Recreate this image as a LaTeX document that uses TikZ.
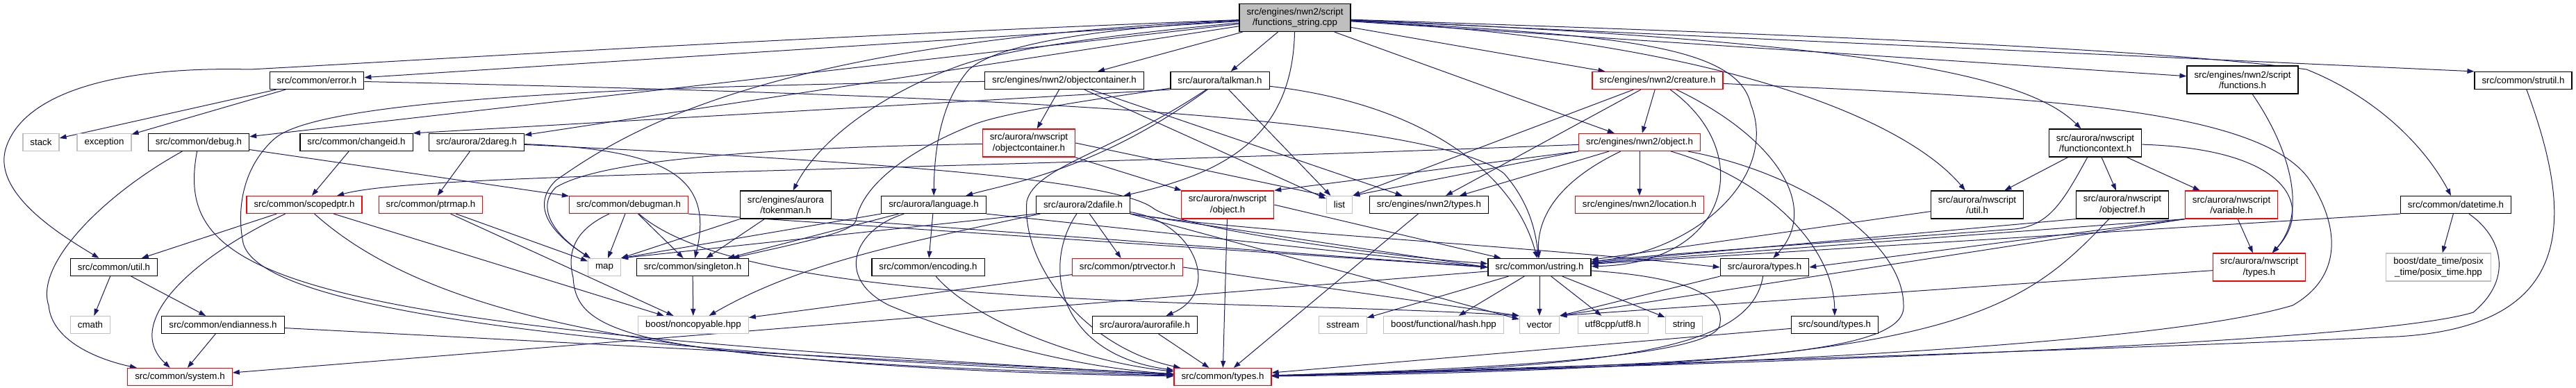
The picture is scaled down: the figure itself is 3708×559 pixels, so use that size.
\documentclass[tikz,border=0pt]{standalone}
\usepackage{fontspec}
\setmainfont{Liberation Sans}
\usetikzlibrary{arrows.meta}
\pgfdeclarelayer{background}
\pgfsetlayers{background,main}
\definecolor{edgeblue}{HTML}{191970}
\definecolor{lightframe}{HTML}{BFBFBF}
\tikzset{
  file/.style={draw=black, fill=white, line width=1.2pt, inner xsep=10.5pt,
    inner ysep=2pt, minimum height=25pt, align=center,
    font=\fontsize{13.3}{15.5}\selectfont},
  twoline/.style={minimum height=40pt},
  cut/.style={draw=red},
  sysfile/.style={draw=lightframe},
  rootfile/.style={fill=lightframe},
  dep/.style={draw=edgeblue, line width=1pt, -{Triangle[length=10pt,width=7pt]}}
}

\begin{document}
\begin{tikzpicture}[x=1pt, y=-1pt]
  \useasboundingbox (0,0) rectangle (3708,559);

  \node[file, rootfile, twoline] (root) at (1864,25.5) {src/engines/nwn2/script\\/functions\_string.cpp};
  \node[file] (error) at (456,116) {src/common/error.h};
  \node[file] (nwnobjcont) at (1532,116) {src/engines/nwn2/objectcontainer.h};
  \node[file] (talkman) at (1756,116) {src/aurora/talkman.h};
  \node[file, cut] (creature) at (2386,116) {src/engines/nwn2/creature.h};
  \node[file, twoline] (functions) at (3228,115) {src/engines/nwn2/script\\/functions.h};
  \node[file] (strutil) at (3632,116) {src/common/strutil.h};

  \node[file, sysfile] (stack) at (59,205) {stack};
  \node[file, sysfile] (exception) at (150,205) {exception};
  \node[file] (debug) at (286,205) {src/common/debug.h};
  \node[file] (changeid) at (513,205) {src/common/changeid.h};
  \node[file] (dareg) at (686,205) {src/aurora/2dareg.h};
  \node[file, cut, twoline] (nwsobjcont) at (1481,206) {src/aurora/nwscript\\/objectcontainer.h};
  \node[file, cut] (nwnobject) at (2360,205) {src/engines/nwn2/object.h};
  \node[file, twoline] (funccontext) at (3016,206) {src/aurora/nwscript\\/functioncontext.h};

  \node[file, cut] (scopedptr) at (438,295) {src/common/scopedptr.h};
  \node[file, cut] (ptrmap) at (620,295) {src/common/ptrmap.h};
  \node[file, cut] (debugman) at (905,295) {src/common/debugman.h};
  \node[file, twoline] (tokenman) at (1131,295) {src/engines/aurora\\/tokenman.h};
  \node[file] (language) at (1344,295) {src/aurora/language.h};
  \node[file] (dafile) at (1559,295) {src/aurora/2dafile.h};
  \node[file, cut, twoline] (nwsobject) at (1767,295) {src/aurora/nwscript\\/object.h};
  \node[file, sysfile] (list) at (1928,295) {list};
  \node[file] (nwntypes) at (2057,295) {src/engines/nwn2/types.h};
  \node[file, cut] (location) at (2360,295) {src/engines/nwn2/location.h};
  \node[file, twoline] (nwsutil) at (2846,295) {src/aurora/nwscript\\/util.h};
  \node[file, twoline] (objectref) at (3055,295) {src/aurora/nwscript\\/objectref.h};
  \node[file, cut, twoline] (variable) at (3212,295) {src/aurora/nwscript\\/variable.h};
  \node[file] (datetime) at (3535,295) {src/common/datetime.h};

  \node[file] (util) at (164,385) {src/common/util.h};
  \node[file, sysfile] (map) at (870,385) {map};
  \node[file] (singleton) at (997,385) {src/common/singleton.h};
  \node[file] (encoding) at (1336,385) {src/common/encoding.h};
  \node[file, cut] (ptrvector) at (1623,385) {src/common/ptrvector.h};
  \node[file] (ustring) at (2216,385) {src/common/ustring.h};
  \node[file] (auroratypes) at (2540,385) {src/aurora/types.h};
  \node[file, cut, twoline] (nwstypes) at (3252,385) {src/aurora/nwscript\\/types.h};
  \node[file, sysfile, twoline] (posix) at (3510,385) {boost/date\_time/posix\\\_time/posix\_time.hpp};

  \node[file, sysfile] (cmath) at (130,468) {cmath};
  \node[file] (endianness) at (321,468) {src/common/endianness.h};
  \node[file, sysfile] (noncopyable) at (998,468) {boost/noncopyable.hpp};
  \node[file] (aurorafile) at (1648,468) {src/aurora/aurorafile.h};
  \node[file, sysfile] (sstream) at (1933,468) {sstream};
  \node[file, sysfile] (hash) at (2078,468) {boost/functional/hash.hpp};
  \node[file, sysfile] (vector) at (2216,468) {vector};
  \node[file, sysfile] (utf8) at (2322,468) {utf8cpp/utf8.h};
  \node[file, sysfile] (string) at (2424,468) {string};
  \node[file] (soundtypes) at (2641,468) {src/sound/types.h};

  \node[file, cut] (system) at (259,543) {src/common/system.h};
  \node[file, cut] (types) at (1760,543) {src/common/types.h};

  \begin{pgfonlayer}{background}
  \draw[dep] (root) -- (error);
  \draw[dep] (root) .. controls (1100,55) and (550,90) .. (360,100) .. controls (150,95) and (30,140) .. (8,215) .. controls (-10,280) and (90,340) .. (util);
  \draw[dep] (root) -- (debug);
  \draw[dep] (root) -- (dareg);
  \draw[dep] (root) .. controls (1100,60) and (900,190) .. (800,260) .. controls (760,300) and (800,340) .. (map);
  \draw[dep] (root) .. controls (1600,50) and (1450,70) .. (1380,95) .. controls (1270,135) and (1180,200) .. (tokenman);
  \draw[dep] (root) .. controls (1600,40) and (1440,60) .. (1395,100) .. controls (1360,140) and (1345,200) .. (language);
  \draw[dep] (root) -- (nwnobjcont);
  \draw[dep] (root) -- (talkman);
  \draw[dep] (root) .. controls (1860,200) and (1760,250) .. (dafile);
  \draw[dep] (root) -- (creature);
  \draw[dep] (root) -- (nwnobject);
  \draw[dep] (root) .. controls (2300,50) and (2500,60) .. (2520,150) .. controls (2560,250) and (2450,360) .. (ustring);
  \draw[dep] (root) .. controls (2500,60) and (2750,180) .. (nwsutil);
  \draw[dep] (root) .. controls (2700,60) and (2920,110) .. (funccontext);
  \draw[dep] (root) -- (functions);
  \draw[dep] (root) -- (strutil.north west);
  \draw[dep] (root) .. controls (2600,50) and (3100,70) .. (3320,100) .. controls (3420,140) and (3490,210) .. (datetime);

  \draw[dep] (error) -- (stack);
  \draw[dep] (error) -- (exception);
  \draw[dep] (error) .. controls (1300,135) and (2050,160) .. (2165,250) .. controls (2200,290) and (2210,330) .. (ustring);

  \draw[dep] (debug) .. controls (150,280) and (50,380) .. (70,440) .. controls (75,495) and (150,520) .. (system);
  \draw[dep] (debug) .. controls (250,400) and (400,470) .. (types);
  \draw[dep] (debug) -- (debugman);
  \draw[dep] (changeid) -- (scopedptr);

  \draw[dep] (dareg) -- (ptrmap);
  \draw[dep] (dareg) .. controls (950,215) and (1030,250) .. (singleton);
  \draw[dep] (dareg) .. controls (1200,230) and (1600,255) .. (1660,300) .. controls (1700,330) and (2000,370) .. (ustring);

  \draw[dep] (scopedptr) -- (util);
  \draw[dep] (scopedptr) .. controls (260,380) and (180,470) .. (system);
  \draw[dep] (scopedptr) -- (noncopyable);
  \draw[dep] (scopedptr) .. controls (600,440) and (900,530) .. (types);
  \draw[dep] (ptrmap) -- (map);
  \draw[dep] (ptrmap) -- (noncopyable);
  \draw[dep] (util) -- (cmath);
  \draw[dep] (util) -- (endianness);
  \draw[dep] (endianness) -- (system);
  \draw[dep] (endianness) -- (types);

  \draw[dep] (debugman) -- (map);
  \draw[dep] (debugman) -- (singleton);
  \draw[dep] (debugman) .. controls (830,330) and (815,360) .. (825,400) .. controls (830,480) and (900,520) .. (types);
  \draw[dep] (debugman.south east) -- (ustring.west);
  \draw[dep] (debugman) .. controls (1080,450) and (1800,430) .. (vector.north west);
  \draw[dep] (tokenman.south west) -- (map.north east);
  \draw[dep] (tokenman) -- (singleton);
  \draw[dep] (tokenman.south east) -- (ustring.west);
  \draw[dep] (singleton) -- (noncopyable);

  \draw[dep] (nwnobjcont) -- (nwsobjcont);
  \draw[dep] (nwnobjcont) -- (list);
  \draw[dep] (nwnobjcont) -- (nwntypes);
  \draw[dep] (nwnobjcont) .. controls (800,125) and (450,150) .. (395,200) .. controls (350,240) and (340,300) .. (350,350) .. controls (370,430) and (700,500) .. (types);
  \draw[dep] (nwsobjcont) -- (nwsobject);
  \draw[dep] (nwsobjcont) .. controls (1000,215) and (850,240) .. (800,270) .. controls (770,300) and (800,340) .. (map);
  \draw[dep] (nwsobjcont.east) -- (list.north west);

  \draw[dep] (talkman.south west) -- (changeid.north east);
  \draw[dep] (talkman) .. controls (1580,245) and (1450,265) .. (language);
  \draw[dep] (talkman) .. controls (1600,140) and (1450,160) .. (1400,180) .. controls (1300,220) and (1240,270) .. (1232,318) .. controls (1228,335) and (1150,350) .. (singleton);
  \draw[dep] (talkman) -- (list);
  \draw[dep] (talkman) .. controls (2050,150) and (2180,250) .. (ustring);
  \draw[dep] (talkman) .. controls (1600,220) and (1490,240) .. (1478,290) .. controls (1470,380) and (1560,500) .. (types);

  \draw[dep] (creature) -- (list.north east);
  \draw[dep] (creature) -- (nwntypes);
  \draw[dep] (creature) -- (nwnobject);
  \draw[dep] (creature) .. controls (2530,220) and (2490,380) .. (ustring);
  \draw[dep] (creature) .. controls (2560,200) and (2620,300) .. (auroratypes);
  \draw[dep] (creature) .. controls (2900,140) and (3250,150) .. (3325,260) .. controls (3370,330) and (3370,400) .. (3300,440) .. controls (3100,500) and (2400,530) .. (types);

  \draw[dep] (nwnobject) .. controls (1200,250) and (600,250) .. (scopedptr);
  \draw[dep] (nwnobject.south west) -- (list.north east);
  \draw[dep] (nwnobject.south west) -- (nwsobject.north east);
  \draw[dep] (nwnobject) -- (nwntypes);
  \draw[dep] (nwnobject) -- (location);
  \draw[dep] (nwnobject) .. controls (2235,265) and (2212,320) .. (ustring);
  \draw[dep] (nwnobject) .. controls (2550,260) and (2640,360) .. (soundtypes);
  \draw[dep] (nwnobject) .. controls (2600,250) and (2740,350) .. (2740,440) .. controls (2745,510) and (2500,525) .. (types);
  \draw[dep] (nwntypes) -- (types);
  \draw[dep] (nwsobject) -- (types);
  \draw[dep] (nwsobject.east) -- (ustring);

  \draw[dep] (language.south west) -- (map.north east);
  \draw[dep] (language) -- (singleton);
  \draw[dep] (language) -- (encoding);
  \draw[dep] (language.south east) -- (ustring.west);
  \draw[dep] (language) .. controls (1230,330) and (1200,400) .. (1280,440) .. controls (1400,490) and (1550,530) .. (types);
  \draw[dep] (encoding) .. controls (1400,460) and (1550,520) .. (types);

  \draw[dep] (dafile.south west) -- (map.north east);
  \draw[dep] (dafile) .. controls (1300,350) and (1150,380) .. (noncopyable);
  \draw[dep] (dafile) -- (ptrvector);
  \draw[dep] (dafile) .. controls (1720,320) and (1760,420) .. (aurorafile);
  \draw[dep] (dafile) .. controls (1500,380) and (1520,510) .. (types);
  \draw[dep] (dafile.south east) -- (ustring.west);
  \draw[dep] (dafile.south east) -- (vector);
  \draw[dep] (dafile.south east) .. controls (1800,335) and (2150,350) .. (auroratypes.west);
  \draw[dep] (ptrvector) -- (noncopyable);
  \draw[dep] (ptrvector.east) -- (vector.north west);
  \draw[dep] (aurorafile) -- (types);

  \draw[dep] (ustring) -- (sstream);
  \draw[dep] (ustring) -- (hash);
  \draw[dep] (ustring) -- (vector);
  \draw[dep] (ustring) -- (utf8);
  \draw[dep] (ustring) -- (string);
  \draw[dep] (ustring) -- (system);
  \draw[dep] (ustring) .. controls (2440,400) and (2485,430) .. (2475,470) .. controls (2460,510) and (2200,530) .. (types);
  \draw[dep] (auroratypes.south west) -- (vector.north east);
  \draw[dep] (auroratypes) .. controls (2520,500) and (2350,530) .. (types);
  \draw[dep] (soundtypes) -- (types);

  \draw[dep] (nwsutil) -- (ustring);
  \draw[dep] (funccontext) -- (nwsutil);
  \draw[dep] (funccontext) -- (objectref);
  \draw[dep] (funccontext) -- (variable);
  \draw[dep] (funccontext) .. controls (2970,290) and (2950,325) .. (2900,330) .. controls (2700,345) and (2400,365) .. (ustring);
  \draw[dep] (funccontext) .. controls (3300,215) and (3330,300) .. (nwstypes);
  \draw[dep] (objectref.south west) -- (ustring);
  \draw[dep] (objectref) .. controls (2900,460) and (2800,530) .. (types);
  \draw[dep] (variable) -- (nwstypes);
  \draw[dep] (variable.south west) -- (ustring);
  \draw[dep] (variable.south west) -- (auroratypes.east);
  \draw[dep] (variable.south west) -- (vector.north east);
  \draw[dep] (nwstypes) -- (vector.north east);
  \draw[dep] (functions) .. controls (3300,220) and (3320,310) .. (nwstypes);

  \draw[dep] (datetime) -- (posix);
  \draw[dep] (datetime.south west) -- (ustring);
  \draw[dep] (datetime) .. controls (3600,340) and (3620,400) .. (3560,450) .. controls (3400,500) and (2300,530) .. (types);
  \draw[dep] (strutil) .. controls (3700,300) and (3720,470) .. (3450,485) .. controls (3000,505) and (2200,530) .. (types);
  \end{pgfonlayer}
\end{tikzpicture}
\end{document}
